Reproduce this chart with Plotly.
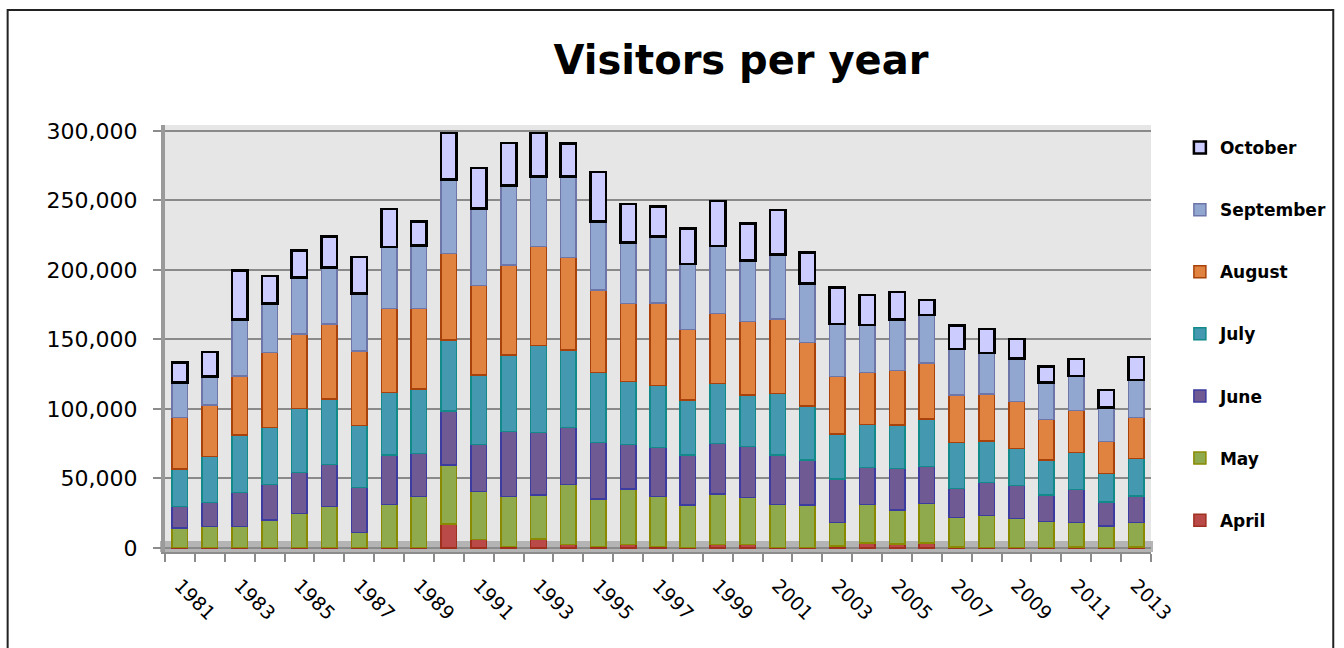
import plotly.graph_objects as go

years = list(range(1981, 2014))
april = [500, 500, 500, 500, 500, 500, 500, 500, 500, 17300, 6200, 1000, 6500, 2400, 1000, 2400, 1000,
         300, 2400, 2400, 300, 500, 1500, 3400, 3000, 3400, 700, 300, 300, 300, 700, 300, 700]
may = [13700, 14800, 14800, 19600, 24400, 29200, 10800, 30900, 36400, 42400, 34300, 35900, 31600, 43400,
       34300, 40000, 35900, 30600, 36400, 33800, 31100, 30400, 17000, 28000, 24300, 28700, 21400, 22900,
       21000, 18600, 17800, 15500, 17500]
june = [15500, 17300, 24500, 25700, 29300, 30500, 32100, 35500, 31200, 38900, 34100, 46800, 45100, 41000,
        40500, 32200, 35500, 36000, 36500, 36700, 35500, 32400, 31100, 26600, 30000, 26400, 20800, 24000,
        23500, 19200, 23700, 17100, 19200]
july = [27100, 33100, 41500, 41000, 46300, 46800, 44600, 44800, 46100, 51000, 49900, 55100, 62400, 55600,
        50600, 45100, 44400, 39600, 43200, 37200, 44400, 38900, 32400, 31000, 31200, 34300, 32900, 29800,
        26900, 25200, 26400, 20800, 27100]
august = [36900, 37200, 42400, 54000, 53500, 54100, 53700, 60700, 58200, 62400, 64200, 64800, 71200, 66500,
          59200, 56300, 59500, 50800, 50300, 52700, 53400, 45500, 41300, 37100, 39100, 40100, 34300, 33800,
          33600, 29300, 30200, 22800, 29200]
september = [25200, 20400, 40800, 35200, 40500, 40800, 41500, 44100, 45300, 53200, 55700, 57100, 50300, 58200,
             49100, 43700, 47700, 47000, 48500, 43900, 46600, 42700, 37800, 34300, 36900, 34700, 33100, 29300,
             31100, 26600, 24900, 24400, 27200]
october = [14600, 17700, 35000, 19500, 19500, 22100, 26300, 27500, 17300, 33300, 29100, 30800, 31400, 23900,
           35800, 27800, 21500, 25700, 32200, 26800, 31700, 22100, 26400, 21600, 19500, 10900, 16800, 17400,
           14100, 11300, 12300, 12600, 16600]

series = [
    ("April", april, "#B94A48", "#A0301E", 1.5),
    ("May", may, "#8FAA4C", "#8A8A00", 1.5),
    ("June", june, "#6F5A94", "#3B3BA0", 1.5),
    ("July", july, "#4499B0", "#128A8A", 1.5),
    ("August", august, "#E08340", "#A8420A", 1.5),
    ("September", september, "#91A7D0", "#6E75A8", 1.5),
    ("October", october, "#CCCCFF", "#000000", 2.5),
]
tick_years = list(range(1981, 2014, 2))

fig = go.Figure()
n = len(series)
for i, (name, vals, fill, line, lw) in enumerate(series):
    fig.add_trace(go.Bar(
        x=years, y=vals, name=name, legendgroup=name, legendrank=n - i,
        marker=dict(color=fill, line=dict(color=line, width=lw)),
        width=0.52,
    ))

L, R, T, B = 165, 1155, 125, 552
W, H = 1344, 648
pw, ph = R - L, B - T

def px(x):
    return (x - L) / pw

def py(y):
    return (B - y) / ph

shapes = [
    # floor
    dict(type="rect", xref="paper", yref="y", x0=px(160), x1=px(1157), y0=-2900, y1=5000,
         fillcolor="#B4B4B4", line=dict(width=0), layer="below"),
    # outer frame
    dict(type="rect", xref="paper", yref="paper", x0=px(7), x1=px(1338), y0=py(665), y1=py(10),
         line=dict(color="#222222", width=2), fillcolor="rgba(0,0,0,0)", layer="above"),
]

fig.update_layout(
    width=W, height=H,
    barmode="stack",
    paper_bgcolor="white",
    plot_bgcolor="#E6E6E6",
    margin=dict(l=L, r=W - R, t=T, b=H - B, pad=0),
    title=dict(text="<b>Visitors per year</b>", x=741 / W, xanchor="center",
               y=1 - 60 / H, yanchor="middle", yref="container",
               font=dict(family="DejaVu Sans", size=40, color="#000000")),
    xaxis=dict(range=[1980.5, 2013.5], tickmode="array", tickvals=tick_years,
               ticktext=[str(y) for y in tick_years], tickangle=45,
               ticks="", showgrid=False, zeroline=False,
               showline=True, linecolor="#8C8C8C", linewidth=2,
               ticklabelstandoff=13,
               tickfont=dict(family="DejaVu Sans", size=19, color="#000000"),
               minor=dict(tick0=1980.5, dtick=1, ticks="outside", ticklen=8,
                          tickcolor="#8C8C8C", tickwidth=1.5, showgrid=False)),
    yaxis=dict(range=[-2900, 304300], tickmode="array",
               tickvals=[0, 50000, 100000, 150000, 200000, 250000, 300000],
               tickformat=",d", ticks="outside", ticklen=8, tickcolor="#8C8C8C", tickwidth=1.5,
               showgrid=True, gridcolor="#8A8A8A", gridwidth=2, zeroline=False,
               showline=True, linecolor="#9A9A9A", linewidth=4,
               ticklabelstandoff=11,
               tickfont=dict(family="DejaVu Sans", size=22, color="#000000")),
    legend=dict(x=px(1184), y=py(130), xanchor="left", yanchor="top",
                traceorder="grouped", tracegroupgap=37,
                font=dict(family="DejaVu Sans", size=17, color="#000000", weight="bold"),
                bgcolor="rgba(0,0,0,0)", itemclick=False),
    shapes=shapes,
    showlegend=True,
)

fig.write_html("out.html")
